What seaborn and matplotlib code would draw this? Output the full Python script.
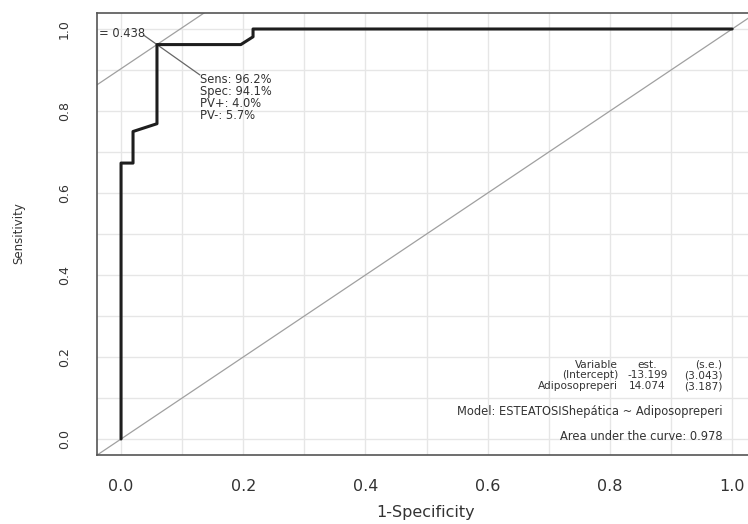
import matplotlib
matplotlib.use("Agg")
import matplotlib.pyplot as plt
import seaborn as sns
import pandas as pd
import numpy as np

# ---- data ----
fpr = [0.0, 0.0, 0.0196, 0.0196, 0.0588, 0.0588, 0.196, 0.216, 0.216, 1.0]
tpr = [0.0, 0.673, 0.673, 0.750, 0.769, 0.962, 0.962, 0.981, 1.0, 1.0]
opt_point = (0.0588, 0.962)
opt_label = "= 0.438"
opt_stats = ["Sens: 96.2%", "Spec: 94.1%", "PV+: 4.0%", "PV-: 5.7%"]
table_col1 = ["Variable", "(Intercept)", "Adiposopreperi"]
table_col2 = ["est.", "-13.199", "14.074"]
table_col3 = ["(s.e.)", "(3.043)", "(3.187)"]
model_text = "Model: ESTEATOSIShepática ~ Adiposopreperi"
auc_text = "Area under the curve: 0.978"
ticks = [0.0, 0.2, 0.4, 0.6, 0.8, 1.0]
tick_labels = ["0.0", "0.2", "0.4", "0.6", "0.8", "1.0"]
grid_vals = [round(0.1 * i, 1) for i in range(11)]

sns.set_style("white")
plt.rcParams['font.family'] = ['DejaVu Sans']

fig = plt.figure(figsize=(7.48, 5.24), dpi=100)
ax = fig.add_axes([96.6 / 748, 1 - 455.4 / 524, 660 / 748, 442.8 / 524])
ax.set_xlim(-0.04, 1.04)
ax.set_ylim(-0.04, 1.04)

grid_c = "#e6e6e6"
for g in grid_vals:
    ax.axvline(g, color=grid_c, lw=1.0, zorder=0)
    ax.axhline(g, color=grid_c, lw=1.0, zorder=0)

line_c = "#a0a0a0"
ax.axline((0, 0), slope=1, color=line_c, lw=0.9, zorder=1)
ax.axline(opt_point, slope=1, color=line_c, lw=0.9, zorder=1)

df = pd.DataFrame({"fpr": fpr, "tpr": tpr})
sns.lineplot(data=df, x="fpr", y="tpr", sort=False, estimator=None,
             color="#1e1e1e", lw=2.2, ax=ax, zorder=3)
ax.set_xlabel("")
ax.set_ylabel("")

txt_c = "#333333"
fs = 8.3
# label of optimal cutoff (its left part is cut off by the box in the reference)
ax.text(-0.036, 0.988, opt_label, ha="left", va="center", fontsize=fs,
        color=txt_c, clip_on=True)
ax.plot([0.037, opt_point[0]], [0.985, opt_point[1]], color="#666666", lw=0.9, zorder=2)
ax.plot([opt_point[0], 0.129], [opt_point[1], 0.888], color="#666666", lw=0.9, zorder=2)
for i, s in enumerate(opt_stats):
    ax.text(0.129, 0.876 - i * 0.0293, s, ha="left", va="center",
            fontsize=fs, color=txt_c)

fs_t = 7.6
rows_y = [0.181, 0.155, 0.129]
for y, a, b, c in zip(rows_y, table_col1, table_col2, table_col3):
    ax.text(0.813, y, a, ha="right", va="center", fontsize=fs_t, color=txt_c)
    ax.text(0.861, y, b, ha="center", va="center", fontsize=fs_t, color=txt_c)
    ax.text(0.984, y, c, ha="right", va="center", fontsize=fs_t, color=txt_c)
ax.text(0.985, 0.068, model_text, ha="right", va="center", fontsize=fs, color=txt_c)
ax.text(0.984, 0.005, auc_text, ha="right", va="center", fontsize=fs, color=txt_c)

ax.set_xticks(ticks)
ax.set_xticklabels(tick_labels, fontsize=11.5, color=txt_c)
ax.set_yticks(ticks)
ax.set_yticklabels(tick_labels, fontsize=9, color=txt_c, rotation=90, va="center")
ax.tick_params(axis="x", length=5.8, width=1.0, color="#444444", pad=11, direction="out")
ax.tick_params(axis="y", length=7.2, width=1.0, color="#444444", pad=11.5, direction="out")

for sp in ax.spines.values():
    sp.set_color("#555555")
    sp.set_linewidth(1.2)

fig.text(426 / 748, 1 - 512 / 524, "1-Specificity", ha="center", va="center",
         fontsize=11.5, color=txt_c)
fig.text(19 / 748, 1 - 233 / 524, "Sensitivity", ha="center", va="center",
         rotation=90, fontsize=8.5, color=txt_c)

fig.savefig("out.png", dpi=100)
